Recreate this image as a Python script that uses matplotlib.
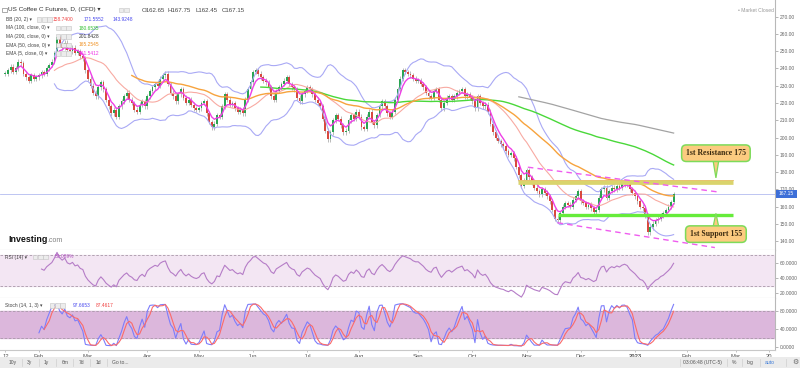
import numpy as np
import matplotlib
matplotlib.use("Agg")
import matplotlib.pyplot as plt
from matplotlib.patches import Rectangle, Polygon

plt.rcParams['font.family'] = ['Liberation Sans', 'DejaVu Sans']

# daily closes, one list per month (Jan 12 2022 .. Jan 25 2023)
jan22 = [237, 239, 241, 238, 240, 244, 243, 237, 235, 233, 236, 234, 235]
feb22 = [236, 238, 237, 240, 242, 244, 249, 258, 254, 252, 255, 251, 250, 252, 249, 250, 247, 246, 239]
mar22 = [234, 230, 226, 224, 229, 232, 228, 222, 218, 214, 216, 212, 218, 221, 224, 226, 222, 220, 216, 215,
         219, 221, 218]
apr22 = [224, 227, 229, 231, 230, 234, 236, 237, 231, 226, 224, 221, 225, 228, 223, 220, 222, 219, 217, 216]
may22 = [217, 220, 221, 214, 209, 206, 208, 213, 212, 218, 225, 222, 219, 220, 217, 215, 216, 214, 222, 228, 232]
jun22 = [238, 239, 237, 235, 233, 232, 229, 224, 222, 227, 229, 231, 233, 235, 231, 229, 228, 223, 221, 225, 227]
jul22 = [229, 228, 225, 222, 220, 218, 211, 204, 199, 203, 210, 213, 211, 207, 203, 204, 210, 213, 211, 215]
aug22 = [212, 206, 205, 212, 215, 209, 207, 213, 218, 221, 218, 214, 212, 215, 222, 228, 234, 239, 238, 237,
         236, 234, 233]
sep22 = [233, 231, 229, 226, 224, 223, 227, 228, 222, 217, 220, 223, 224, 222, 224, 226, 227, 228, 224, 225, 223]
oct22 = [221, 217, 224, 220, 218, 219, 215, 208, 203, 200, 198, 196, 195, 192, 190, 191, 188, 183, 178, 172, 175]
nov22 = [181, 177, 174, 171, 169, 167, 170, 168, 166, 163, 158, 153, 152, 156, 160, 162, 161, 160, 164, 166, 169]
dec22 = [163, 162, 160, 161, 159, 157, 158, 165, 170, 171, 165, 169, 171, 170, 172, 171, 173, 174, 173, 170, 168]
jan23 = [166, 163, 160, 159, 155, 145, 148, 150, 152, 153, 155, 156, 158, 160, 162.65, 167.15]

month_data = [jan22, feb22, mar22, apr22, may22, jun22, jul22, aug22, sep22, oct22, nov22, dec22, jan23]
month_labels = ["12", "Feb", "Mar", "Apr", "May", "Jun", "Jul", "Aug", "Sep", "Oct", "Nov", "Dec", "2023"]
# sessions ahead of the last bar for the empty right part of the axis
future_labels = ["Feb", "Mar", "20"]
future_offsets = [4, 23, 36]

resistance = 174.5
support = 155.0
last_price = 167.15
# trend channel ends: (bar, price)
chan_upper = [(202.5, 182.8), (276, 168.5)]
chan_lower = [(214, 150.6), (275, 136.2)]

header_vals = ["O162.65", "H167.75", "L162.45", "C167.15"]
bb_vals = ["158.7400", "171.5552", "143.9248"]
ma100_val, ma200_val, ema50_val, ema5_val = "180.6535", "201.8428", "165.2545", "161.5412"
rsi_val = "59.089%"
stoch_vals = ["97.6653", "87.4617"]

close = np.array([v for m in month_data for v in m], dtype=float)
n = len(close)
x = np.arange(n)
opn = np.r_[close[0], close[:-1]]
wick = 1.4
body_lo = np.minimum(opn, close)
body_hi = np.maximum(opn, close)
high = body_hi + wick
low = body_lo - wick


def sma(s, k):
    out = np.full(len(s), np.nan)
    for i in range(k - 1, len(s)):
        out[i] = s[i - k + 1:i + 1].mean()
    return out


def ema(s, k):
    out = np.full(len(s), np.nan)
    out[k - 1] = s[:k].mean()
    a = 2 / (k + 1)
    for i in range(k, len(s)):
        out[i] = s[i] * a + out[i - 1] * (1 - a)
    return out


def rsi(s, k=14):
    d = np.diff(s)
    g = np.clip(d, 0, None)
    l = np.clip(-d, 0, None)
    out = np.full(len(s), np.nan)
    ag, al = g[:k].mean(), l[:k].mean()
    out[k] = 100 - 100 / (1 + ag / al)
    for i in range(k, len(d)):
        ag = (ag * (k - 1) + g[i]) / k
        al = (al * (k - 1) + l[i]) / k
        out[i + 1] = 100 - 100 / (1 + ag / al)
    return out


bb_mid = sma(close, 20)
bb_sd = np.full(n, np.nan)
for i in range(19, n):
    bb_sd[i] = close[i - 19:i + 1].std()
bb_up = bb_mid + 2 * bb_sd
bb_dn = bb_mid - 2 * bb_sd
ma100 = sma(close, 100)
ma200 = sma(close, 200)
ema50 = ema(close, 50)
ema5 = ema(close, 5)
rsi14 = rsi(close)
stk = np.full(n, np.nan)
for i in range(13, n):
    hh = high[i - 13:i + 1].max()
    ll = low[i - 13:i + 1].min()
    stk[i] = 100 * (close[i] - ll) / (hh - ll)
std = np.full(n, np.nan)
for i in range(15, n):
    std[i] = stk[i - 2:i + 1].mean()

W, H = 800, 368
fig = plt.figure(figsize=(8, 3.68), dpi=100)
fig.patch.set_facecolor('white')


def fx(px):
    return px / W


def fy(py):
    return 1 - py / H


ax = fig.add_axes([0, fy(250), fx(775), 250 / H])
ax_r = fig.add_axes([0, fy(298), fx(775), 48 / H], sharex=ax)
ax_s = fig.add_axes([0, fy(350), fx(775), 52 / H], sharex=ax)

for a in (ax, ax_r, ax_s):
    for sp in ('top', 'left'):
        a.spines[sp].set_visible(False)
    a.spines['right'].set_color('#b8b8b8')
    a.spines['bottom'].set_color('#c8c8c8')
    a.spines['right'].set_linewidth(0.8)
    a.spines['bottom'].set_linewidth(0.8)
    a.yaxis.tick_right()
    a.tick_params(axis='y', length=2, width=0.5, color='#999999', labelsize=3.5,
                  labelcolor='#666666', pad=1.5)
    a.set_facecolor('white')

ax.set_xlim(-2.1, 298.3)
ax.set_ylim(134.8, 279.7)
ax.set_yticks(np.arange(140, 271, 10))
ax.set_yticklabels(["%.2f" % v for v in np.arange(140, 271, 10)])
ax.tick_params(axis='x', bottom=False, labelbottom=False)
ax_r.tick_params(axis='x', bottom=False, labelbottom=False)

# candles
up = close >= opn
ax.vlines(x, low, high, color='#a0a0a0', lw=0.5, zorder=2)
hgt = np.maximum(body_hi - body_lo, 0.35)
ax.bar(x[up], hgt[up], bottom=body_lo[up], width=0.72, color='#2aa552', edgecolor='none', zorder=3)
ax.bar(x[~up], hgt[~up], bottom=body_lo[~up], width=0.72, color='#d8493f', edgecolor='none', zorder=3)

# indicators
ax.plot(x, bb_up, color='#a9a9f5', lw=0.8, zorder=4)
ax.plot(x, bb_dn, color='#a9a9f5', lw=0.8, zorder=4)
ax.plot(x, bb_mid, color='#f8aaa2', lw=0.8, zorder=4)
ax.plot(x, ma200, color='#a3a3a3', lw=0.9, zorder=4)
ax.plot(x, ma100, color='#4ad83a', lw=1.0, zorder=4)
ax.plot(x, ema50, color='#f7a33d', lw=1.0, zorder=4)
ax.plot(x, ema5, color='#ee3fe6', lw=1.0, zorder=5)

# last price line
ax.axhline(last_price, color='#b3bcf0', lw=0.6, zorder=1)

# drawn levels
ax.plot([198.6, 282], [resistance, resistance], color='#dad46c', lw=3.4, solid_capstyle='butt', zorder=6)
ax.plot([198.6, 282], [resistance + 0.9, resistance + 0.9], color='#e8c070', lw=0.6, zorder=6)
ax.plot([214, 282], [support, support], color='#66ec3a', lw=2.4, solid_capstyle='butt', zorder=6)
ax.plot(*zip(*chan_upper), color='#ef5cef', lw=1.0, ls=(0, (4, 3)), zorder=6)
ax.plot(*zip(*chan_lower), color='#ef5cef', lw=1.0, ls=(0, (4, 3)), zorder=6)

# callouts
fill, edge = '#fccb80', '#7ddb5a'
box = dict(boxstyle='round,pad=0.55,rounding_size=0.6', fc=fill, ec=edge, lw=1.1)
serif = ['Liberation Serif', 'DejaVu Serif']
ax.add_patch(Polygon([(274.2, 187.5), (276.6, 187.5), (275.4, 176.6)], closed=True,
                     fc=fill, ec=edge, lw=0.9, zorder=7))
ax.text(275.4, 190.9, "1st Resistance 175", ha='center', va='center', fontsize=5.6,
        family=serif, weight='bold', color='#3a2a10', bbox=box, zorder=8)
ax.add_patch(Polygon([(274.2, 147.5), (276.6, 147.5), (275.4, 156.0)], closed=True,
                     fc=fill, ec=edge, lw=0.9, zorder=7))
ax.text(275.4, 144.0, "1st Support 155", ha='center', va='center', fontsize=5.6,
        family=serif, weight='bold', color='#3a2a10', bbox=box, zorder=8)

# price tag on axis
fig.patches.append(Rectangle((fx(776), fy(197.5)), fx(21), 8 / H, transform=fig.transFigure,
                             fc='#3d6fd8', ec='none', zorder=10))
fig.text(fx(786.5), fy(193.5), "%.2f" % last_price, color='white', fontsize=3.6, ha='center', va='center',
         zorder=11)

# RSI panel
ax_r.set_ylim(13.7, 76.4)
ax_r.axhspan(30, 70, color='#f3e6f3', zorder=0)
ax_r.axhline(70, color='#a898a8', lw=0.6, ls=(0, (3, 2)))
ax_r.axhline(30, color='#a898a8', lw=0.6, ls=(0, (3, 2)))
ax_r.plot(x, rsi14, color='#b57cc7', lw=0.8)
ax_r.set_yticks([20, 40, 60])
ax_r.set_yticklabels(["20.0000", "40.0000", "60.0000"])

# Stoch panel
ax_s.set_ylim(-6, 108.5)
ax_s.axhspan(20, 80, color='#dcb7dc', zorder=0)
ax_s.axhline(80, color='#a898a8', lw=0.6, ls=(0, (3, 2)))
ax_s.axhline(20, color='#a898a8', lw=0.6, ls=(0, (3, 2)))
ax_s.plot(x, stk, color='#7d7dfb', lw=0.8)
ax_s.plot(x, std, color='#fb6a6a', lw=0.8)
ax_s.set_yticks([0, 40, 80])
ax_s.set_yticklabels(["0.0000", "40.0000", "80.0000"])

# month ticks from the lengths of the monthly lists
starts = list(np.cumsum([0] + [len(m) for m in month_data[:-1]]))
tick_pos = starts + [n + k for k in future_offsets]
tick_lab = month_labels + future_labels
ax_s.set_xticks(tick_pos)
ax_s.set_xticklabels(tick_lab)
ax_s.tick_params(axis='x', length=1.5, width=0.5, color='#aaaaaa', labelsize=4.2, labelcolor='#555555', pad=1.5)
for t in ax_s.get_xticklabels():
    if t.get_text() == "2023":
        t.set_fontweight('bold')


# header / legends
def txt(px, py, s, color='#444444', size=3.5, **kw):
    return fig.text(fx(px), fy(py), s, color=color, fontsize=size, va='center', ha='left', **kw)


def icons(px, py, k=3):
    for j in range(k):
        fig.patches.append(Rectangle((fx(px + j * 5.2), fy(py + 2.2)), fx(4.4), 4.4 / H,
                                     transform=fig.transFigure, fc='#ececec', ec='#c4c4c4', lw=0.4))


fig.patches.append(Rectangle((fx(2), fy(12.3)), fx(4.6), 4.6 / H, transform=fig.transFigure,
                             fc='white', ec='#888888', lw=0.5))
txt(8, 10, "US Coffee C Futures, D, (CFD) ▾", color='#333333', size=4.6)
icons(119, 10, 2)
for px, s in zip([142, 168, 195, 222], header_vals):
    txt(px, 10, s, color='#444444', size=4.4)

txt(6, 19.5, "BB (20, 2) ▾")
icons(37, 19.5, 3)
txt(53, 19.5, bb_vals[0], color='#f04040')
txt(84, 19.5, bb_vals[1], color='#4848ee')
txt(113, 19.5, bb_vals[2], color='#4848ee')

rows = [("MA (100, close, 0) ▾", ma100_val, '#30c030', 28),
        ("MA (200, close, 0) ▾", ma200_val, '#333333', 36.5),
        ("EMA (50, close, 0) ▾", ema50_val, '#f09020', 45),
        ("EMA (5, close, 0) ▾", ema5_val, '#ee30e6', 53.5)]
for lab, val, col, py in rows:
    txt(6, py, lab)
    icons(56, py, 3)
    txt(79, py, val, color=col)

txt(5, 257, "RSI (14) ▾")
icons(33, 257, 3)
txt(55, 257, rsi_val, color='#b050c0')
txt(5, 305.5, "Stoch (14, 1, 3) ▾")
icons(50, 305.5, 3)
txt(73, 305.5, stoch_vals[0], color='#4848ee')
txt(96, 305.5, stoch_vals[1], color='#f04040')

txt(738, 10, "• Market Closed", color='#999999', size=3.6)
logo = txt(8, 240, "Investing", color='#111111', size=6.4, weight='bold')
bb = logo.get_window_extent(fig.canvas.get_renderer())
txt(bb.x1 + 0.3, 241, ".com", color='#808080', size=5.0)

# toolbar
fig.patches.append(Rectangle((0, 0), 1, fy(357), transform=fig.transFigure, fc='#ebebeb', ec='none'))
for px, s in zip([9, 27, 44, 62, 79, 96, 112], ["10y", "3y", "1y", "6m", "7d", "1d", "Go to..."]):
    txt(px, 362.5, s, color='#555555', size=3.6)
for px in [22, 39, 56, 73, 90, 107, 680, 727, 742, 760, 786]:
    fig.lines.append(plt.Line2D([fx(px), fx(px)], [fy(359), fy(366)], transform=fig.transFigure,
                                color='#cfcfcf', lw=0.5))
txt(683, 362.5, "03:06:48 (UTC-5)", color='#555555', size=3.6)
txt(732, 362.5, "%", color='#555555', size=3.6)
txt(747, 362.5, "log", color='#555555', size=3.6)
txt(765, 362.5, "auto", color='#3a7ad8', size=3.6)
txt(792, 362.5, "⚙", color='#666666', size=5)

fig.savefig("out.png", dpi=100)
